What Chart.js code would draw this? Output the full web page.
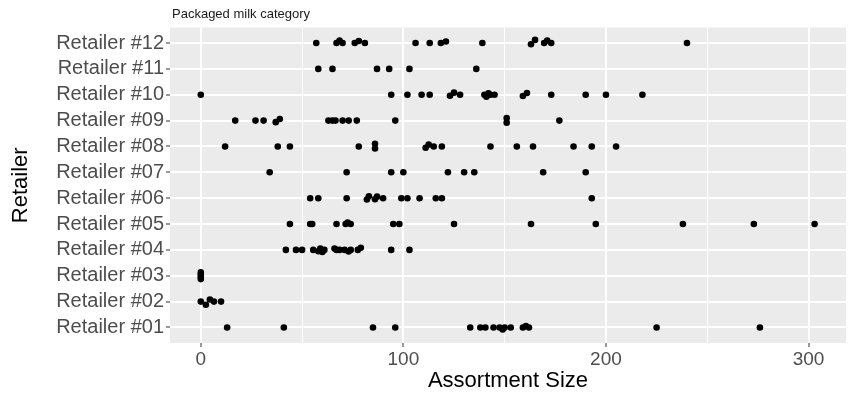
<!DOCTYPE html>
<html>
<head>
<meta charset="utf-8">
<script src="https://cdn.jsdelivr.net/npm/chart.js@4.4.1/dist/chart.umd.min.js"></script>
<style>
  html, body { margin: 0; padding: 0; background: #ffffff; }
  #wrap { width: 854px; height: 393px; }
</style>
</head>
<body>
<div id="wrap"><canvas id="milkChart" width="854" height="393"></canvas></div>
<script>
// Assortment size per retailer, packaged milk. A value given as [x, dy]
// carries a small vertical jitter so overlapping stores stay visible.
const retailers = [
  'Retailer #01', 'Retailer #02', 'Retailer #03', 'Retailer #04',
  'Retailer #05', 'Retailer #06', 'Retailer #07', 'Retailer #08',
  'Retailer #09', 'Retailer #10', 'Retailer #11', 'Retailer #12'
];

const r01 = [13, 41, 85, 96, 133, 138, 140.5, 144.5, 147.5, [149, -0.08], 150, 153, 159, [160.5, 0.06], 162, 225, 276];
const r02 = [0, [2.5, -0.12], [4.5, 0.08], 6.5, 10];
const r03 = [[0, 0.13], [0, 0.04], [0, -0.05], [0, -0.13]];
const r04 = [42, 47, 50, 55.5, [58, -0.05], [59, 0.05], [60, -0.08], 61, [66, 0.05], 67, 68.5, 71, [73, -0.06], 74, 77.5, [79, 0.08], 94, 103];
const r05 = [44, 54, 55, 67, 71.5, [72.5, 0.06], 74, 95, 98, 125, 163, 195, 238, 273, 303];
const r06 = [54, 58, 72, [82, -0.05], [83, 0.07], [86, -0.04], [87, 0.06], 90, 99, 102, 108, 116, 119, 193];
const r07 = [34, 72, 94, 100, 122, 130, 135, 169, 190];
const r08 = [12, 38, 44, 78, [86, 0.1], [86, -0.08], [111, -0.05], [112.5, 0.07], 115, 119, 143, 156, 164, 184, 193, 205];
const r09 = [17, 27, 31, [37, -0.06], [39, 0.06], 63, 65, 66.5, 70, 73, 77, 96, [151, 0.1], [151, -0.08], 177];
const r10 = [0, 94, 102, 109, 113, [123, -0.04], [125, 0.08], 128, 140, [141, -0.08], [142, 0.06], 143, 145, [159, -0.05], [161, 0.07], 173, 190, 200, 218];
const r11 = [58, 65, 87, 93, 103, 136];
const r12 = [57, 67, [68.5, 0.1], 70, 76, [78, 0.08], 81, 106, 113, 118.5, [121, 0.06], 139, [163, -0.05], [165, 0.12], 169.5, [171, 0.1], 173, 240];

const rows = [r01, r02, r03, r04, r05, r06, r07, r08, r09, r10, r11, r12];
const xTicks = [0, 50, 100, 150, 200, 250, 300];

const points = [];
rows.forEach(function (row, i) {
  row.forEach(function (v) {
    const x = Array.isArray(v) ? v[0] : v;
    const dy = Array.isArray(v) ? v[1] : 0;
    points.push({ x: x, y: i + 1 + dy });
  });
});

// grey ggplot-style panel behind the grid
const panelBg = {
  id: 'panelBg',
  beforeDraw(chart) {
    const a = chart.chartArea;
    const ctx = chart.ctx;
    ctx.save();
    ctx.fillStyle = '#ebebeb';
    ctx.fillRect(a.left, a.top, a.right - a.left, a.bottom - a.top);
    ctx.restore();
  }
};

// small caption above the panel, left aligned with it
const caption = {
  id: 'caption',
  afterDraw(chart) {
    const ctx = chart.ctx;
    ctx.save();
    ctx.font = '13px "Liberation Sans", Arial, sans-serif';
    ctx.fillStyle = '#1a1a1a';
    ctx.textBaseline = 'alphabetic';
    ctx.fillText('Packaged milk category', chart.chartArea.left + 2, 18);
    ctx.restore();
  }
};

const ctx = document.getElementById('milkChart').getContext('2d');

new Chart(ctx, {
  type: 'scatter',
  data: {
    datasets: [{
      label: 'Assortment size',
      data: points,
      backgroundColor: '#000000',
      borderColor: '#000000',
      borderWidth: 0,
      pointRadius: 3.3,
      pointHoverRadius: 3.3
    }]
  },
  options: {
    responsive: false,
    animation: false,
    layout: { padding: { top: 27.5, right: 8, bottom: 0, left: 0 } },
    plugins: {
      legend: { display: false },
      tooltip: { enabled: false }
    },
    scales: {
      x: {
        type: 'linear',
        min: -15.2,
        max: 318.5,
        afterBuildTicks(scale) {
          scale.ticks = xTicks.map(function (v) { return { value: v }; });
        },
        afterFit(scale) { scale.height = 50; },
        border: { display: false },
        grid: {
          color: '#ffffff',
          lineWidth: function (c) { return c.tick && c.tick.value % 100 === 0 ? 2 : 1; },
          drawTicks: true,
          tickLength: 4,
          tickWidth: 1,
          tickColor: function (c) { return c.tick && c.tick.value % 100 === 0 ? '#333333' : 'rgba(0,0,0,0)'; }
        },
        ticks: {
          autoSkip: false,
          maxRotation: 0,
          padding: 1,
          color: '#4d4d4d',
          font: { family: '"Liberation Sans", Arial, sans-serif', size: 19 },
          callback: function (v) { return v % 100 === 0 ? String(v) : ''; }
        },
        title: {
          display: true,
          text: 'Assortment Size',
          color: '#000000',
          font: { family: '"Liberation Sans", Arial, sans-serif', size: 22, lineHeight: 1.1 },
          padding: { top: 0, bottom: 0 }
        }
      },
      y: {
        type: 'linear',
        min: 0.4,
        max: 12.6,
        afterBuildTicks(scale) {
          scale.ticks = retailers.map(function (r, i) { return { value: i + 1 }; });
        },
        afterFit(scale) { scale.width = 170; },
        border: { display: false },
        grid: {
          color: '#ffffff',
          lineWidth: 2,
          drawTicks: true,
          tickLength: 4,
          tickWidth: 1,
          tickColor: '#333333'
        },
        ticks: {
          autoSkip: false,
          padding: 2,
          color: '#4d4d4d',
          font: { family: '"Liberation Sans", Arial, sans-serif', size: 20 },
          callback: function (v) { return retailers[Math.round(v) - 1] || ''; }
        },
        title: {
          display: true,
          text: 'Retailer',
          color: '#000000',
          font: { family: '"Liberation Sans", Arial, sans-serif', size: 22, lineHeight: 1.2 },
          padding: { top: 8, bottom: 0 }
        }
      }
    }
  },
  plugins: [panelBg, caption]
});
</script>
</body>
</html>
